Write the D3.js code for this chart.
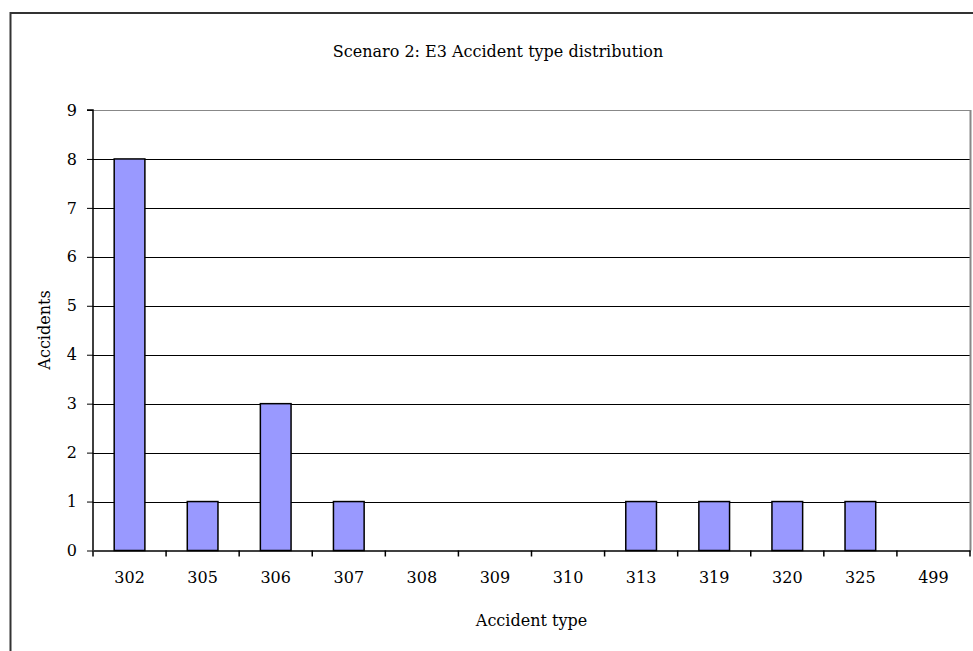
<!DOCTYPE html>
<html><head><meta charset="utf-8">
<script src="https://cdn.jsdelivr.net/npm/d3@7"></script>
<style>body{margin:0;background:#fff}svg{display:block}</style>
</head><body><svg id="c" width="973" height="651"></svg>
<script>
const categories = ["302","305","306","307","308","309","310","313","319","320","325","499"];
const accidents = [8,1,3,1,0,0,0,1,1,1,1,0];
const yTicks = [0,1,2,3,4,5,6,7,8,9];
const title = "Scenaro 2: E3 Accident type distribution";
const xTitle = "Accident type";
const yTitle = "Accidents";

const FONT = "DejaVu Serif";
const FS = 16;
const svg = d3.select("#c");
const m = {l:93, r:970, t:110, b:550.5};
const x = d3.scaleBand().domain(categories).range([m.l, m.r]).paddingInner(0.58).paddingOuter(0.29);
const xb = d3.scaleBand().domain(categories).range([m.l, m.r]);
const y = d3.scaleLinear().domain([0,9]).range([m.b, m.t]);

// outer border
svg.append("path").attr("d","M10.5,660 V13 H980").attr("fill","none").attr("stroke","#333").attr("stroke-width",2);

// gridlines
svg.append("g").selectAll("line").data(yTicks.filter(d=>d>0)).join("line")
  .attr("x1",m.l).attr("x2",m.r).attr("y1",d=>Math.round(y(d))+0.5).attr("y2",d=>Math.round(y(d))+0.5)
  .attr("stroke","#000").attr("stroke-width",1);
// plot right border
svg.append("line").attr("x1",m.r+0.5).attr("x2",m.r+0.5).attr("y1",m.t).attr("y2",m.b).attr("stroke","#888").attr("stroke-width",2);
svg.append("line").attr("x1",m.l).attr("x2",m.r).attr("y1",m.t+0.5).attr("y2",m.t+0.5).attr("stroke","#888").attr("stroke-width",1);

// bars
svg.append("g").selectAll("rect").data(categories.map((c,i)=>({c,v:accidents[i]})).filter(d=>d.v>0)).join("rect")
  .attr("x",d=>x(d.c)).attr("width",x.bandwidth())
  .attr("y",d=>y(d.v)).attr("height",d=>y(0)-y(d.v))
  .attr("fill","#9999ff").attr("stroke","#000").attr("stroke-width",1.5);

// y axis
const ya = d3.axisLeft(y).tickValues(yTicks).tickSize(6).tickPadding(10);
const gy = svg.append("g").attr("transform",`translate(${m.l},0)`).call(ya)
  .attr("font-family",FONT).attr("font-size",FS);
gy.select(".domain").attr("stroke","#000").attr("stroke-width",1.5).attr("d",`M-6,${m.t}H0V${m.b}`);

// x axis
const xa = d3.axisBottom(xb).tickSize(0).tickPadding(21);
const gx = svg.append("g").attr("transform",`translate(0,${m.b})`).call(xa)
  .attr("font-family",FONT).attr("font-size",FS);
gx.select(".domain").attr("stroke","#000").attr("stroke-width",1.5);
// category boundary ticks
svg.append("g").selectAll("line").data(categories.concat(["end"])).join("line")
  .attr("x1",(d,i)=>m.l + i*xb.step()).attr("x2",(d,i)=>m.l + i*xb.step())
  .attr("y1",m.b).attr("y2",m.b+6).attr("stroke","#000").attr("stroke-width",1.5);

const t = svg.append("g").attr("font-family",FONT).attr("font-size",FS);
t.append("text").attr("x",498).attr("y",57).attr("text-anchor","middle").text(title);
t.append("text").attr("x",(m.l+m.r)/2).attr("y",626).attr("text-anchor","middle").text(xTitle);
t.append("text").attr("transform","translate(50,330) rotate(-90)").attr("text-anchor","middle").text(yTitle);
</script></body></html>
